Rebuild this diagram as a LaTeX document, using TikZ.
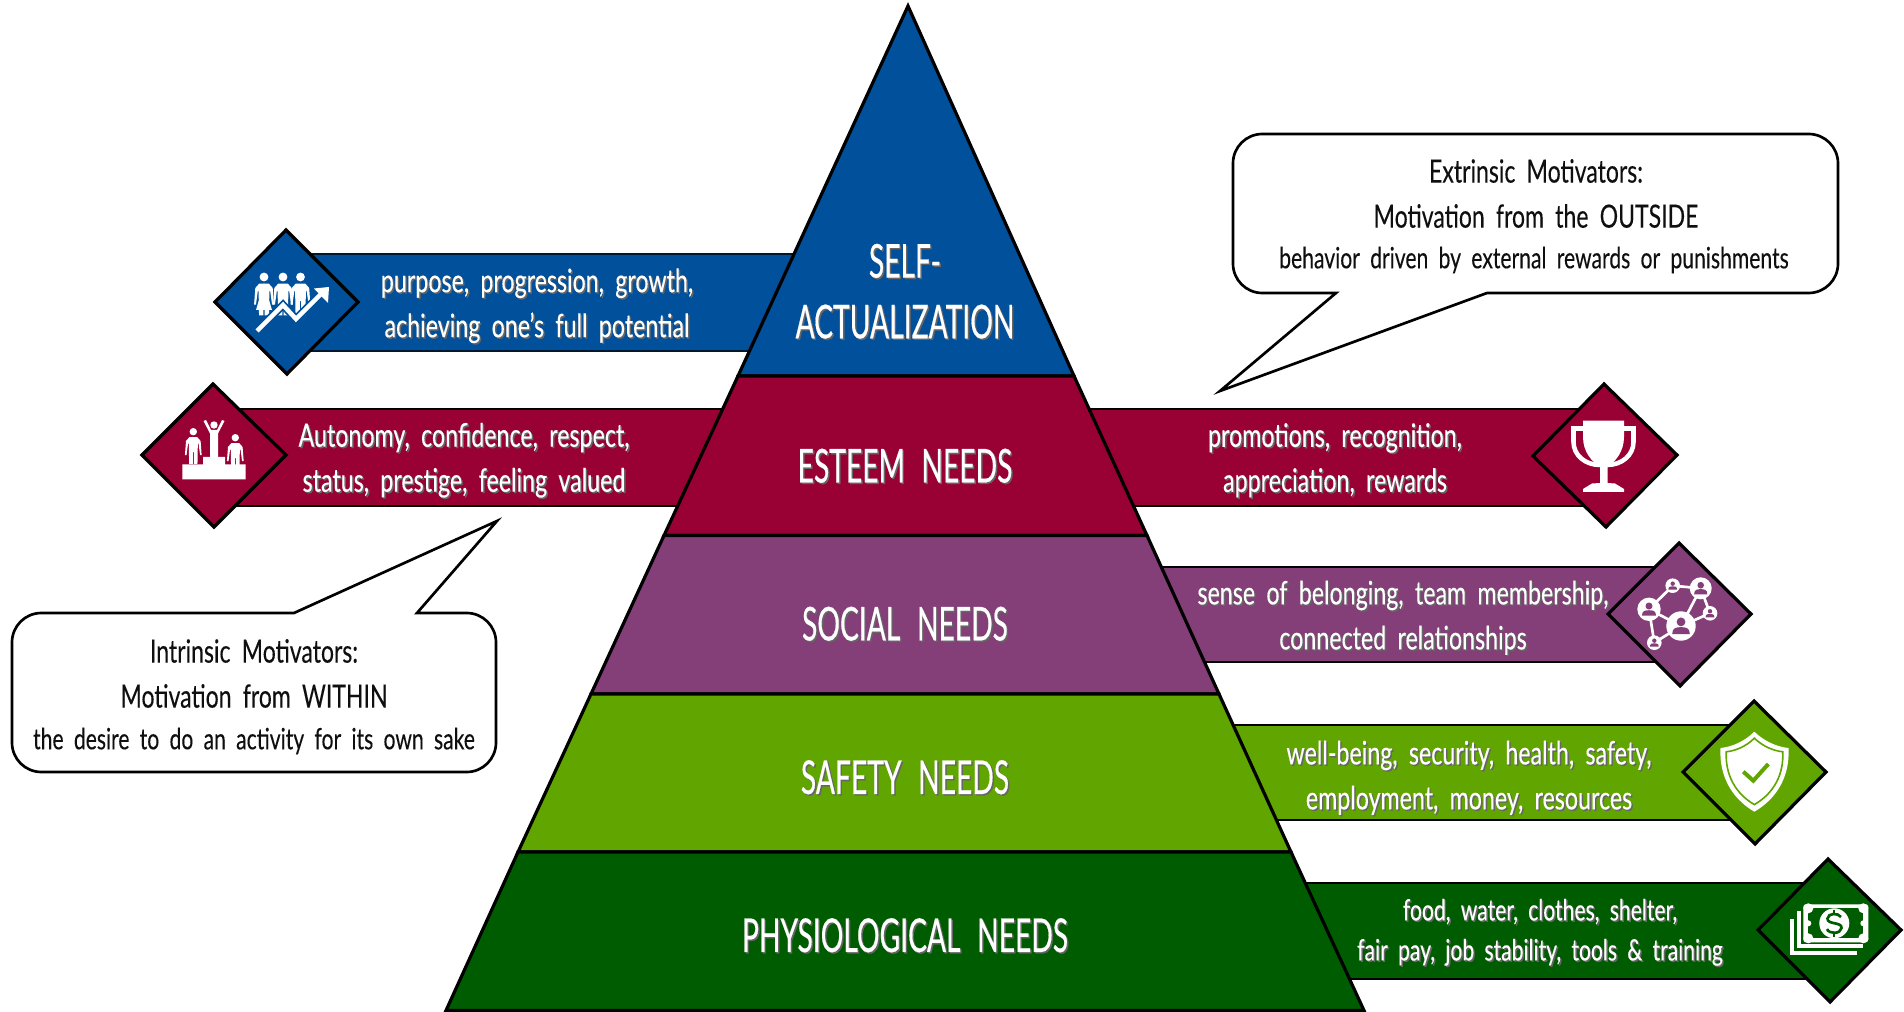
\documentclass[tikz,border=0pt]{standalone}
\usepackage{fontspec}
\setmainfont[FakeStretch=0.72,WordSpace=1.9,FakeBold=0.25]{Lato}
\newfontfamily\tierfont[FakeStretch=0.605,WordSpace=2.3,FakeBold=0.35]{Lato}
\newfontfamily\callfont[FakeStretch=0.72,WordSpace=1.9,FakeBold=0.15]{Lato}
\definecolor{cblue}{RGB}{0,80,155}
\definecolor{cred}{RGB}{153,0,51}
\definecolor{cpurple}{RGB}{132,62,120}
\definecolor{cgreen}{RGB}{96,165,0}
\definecolor{cdark}{RGB}{0,92,0}
\definecolor{ctext}{RGB}{15,15,15}
\newcommand\shd[1]{\leavevmode\rlap{\raisebox{-1.1pt}{\kern1.1pt\textcolor{black!60}{#1}}}#1}
\tikzset{
 x=0.75pt,y=-0.75pt,
 tier/.style={draw=black,line width=2.4pt,line join=miter},
 barbox/.style={draw=black,line width=2.2pt},
 diamondbox/.style={draw=black,line width=2.4pt,line join=miter},
 callout/.style={draw=black,line width=2pt,fill=white,line join=miter},
 tiertext/.style={text=white,inner sep=0,align=center,font=\tierfont\fontsize{35}{45.5}\selectfont},
 sidetext/.style={text=white,inner sep=0,align=center,font=\fontsize{24.2}{33.75}\selectfont},
 lowtext/.style={text=white,inner sep=0,align=center,font=\fontsize{22}{30}\selectfont},
 calloutbig/.style={text=ctext,inner sep=0,font=\callfont\fontsize{24}{26}\selectfont},
 calloutsmall/.style={text=ctext,inner sep=0,font=\callfont\fontsize{22}{24}\selectfont},
}
% standing person: origin at the centre of the head, unit = head radius
\newcommand\iconperson[3]{%
 \begin{scope}[shift={(#1,#2)},scale=#3]
 \fill[white] (0,0) circle[radius=1];
 \begin{scope}[xscale=0.47]
 \fill[white] (-2.3,1.5) -- (2.3,1.5) -- (4.2,2.5) -- (4.8,6.3) -- (3.9,6.3) -- (3.0,3.2) -- (2.6,3.2) -- (2.4,8.7) -- (0.3,8.7) -- (0.3,5.5) -- (-0.3,5.5) -- (-0.3,8.7) -- (-2.4,8.7) -- (-2.6,3.2) -- (-3.0,3.2) -- (-3.9,6.3) -- (-4.8,6.3) -- (-4.2,2.5) -- cycle;
 \end{scope}
 \end{scope}}
% circle of the network icon holding a small person
\newcommand\netdisc[3]{%
 \fill[white] (#1,#2) circle[radius=#3];
 \begin{scope}[shift={(#1,#2)},scale=#3]
 \fill[cpurple] (0,-0.28) circle[radius=0.3];
 \fill[cpurple] (-0.6,0.55) .. controls (-0.6,0.1) and (-0.3,0.08) .. (0,0.08) .. controls (0.3,0.08) and (0.6,0.1) .. (0.6,0.55) -- cycle;
 \end{scope}}
\newcommand\shieldpath{(1754.3,731.7) .. controls (1765,742) and (1778,747) .. (1788.5,748) .. controls (1790,775) and (1778,798) .. (1754.3,811.7) .. controls (1731,798) and (1719,775) .. (1720.5,748) .. controls (1731,747) and (1744,742) .. (1754.3,731.7) -- cycle}
\begin{document}
\begin{tikzpicture}
\useasboundingbox (0,0) rectangle (1904,1012);

% ---- side bars (behind pyramid and diamonds)
\path[barbox,draw=black!70!cblue,fill=cblue] (300,254) rectangle (800,351);
\path[barbox,fill=cred] (230,409) rectangle (724,506);
\path[barbox,fill=cred] (1080,409) rectangle (1590,506);
\path[barbox,fill=cpurple] (1150,567) rectangle (1665,662);
\path[barbox,fill=cgreen] (1220,725) rectangle (1740,820);
\path[barbox,fill=cdark] (1290,883) rectangle (1815,979);

% ---- pyramid
\path[tier,fill=cblue] (908,6) -- (1074,376) -- (738,376) -- cycle;
\path[tier,fill=cred] (738,376) -- (1074,376) -- (1147,535.5) -- (664,535.5) -- cycle;
\path[tier,fill=cpurple] (664,535.5) -- (1147,535.5) -- (1219,694) -- (591,694) -- cycle;
\path[tier,fill=cgreen] (591,694) -- (1219,694) -- (1291,852) -- (518,852) -- cycle;
\path[tier,fill=cdark] (518,852) -- (1291,852) -- (1364,1010.5) -- (446,1010.5) -- cycle;

% ---- diamonds
\path[diamondbox,fill=cblue] (215,302) -- (286,230) -- (358,302) -- (287,374) -- cycle;
\path[diamondbox,fill=cred] (142,455) -- (213,384) -- (286,455) -- (214,527) -- cycle;
\path[diamondbox,fill=cred] (1533,456) -- (1604,384) -- (1677,455) -- (1606,527) -- cycle;
\path[diamondbox,fill=cpurple] (1608,614) -- (1679,543) -- (1751,614) -- (1680,686) -- cycle;
\path[diamondbox,fill=cgreen] (1683,772) -- (1754,701) -- (1826,772) -- (1755,844) -- cycle;
\path[diamondbox,fill=cdark] (1758,930) -- (1828,859) -- (1901,930) -- (1830,1002) -- cycle;

% ---- icon: team and rising arrow
\iconperson{283}{277}{4.4}
\iconperson{300.5}{277}{4.4}
\iconperson{264}{277}{4.4}
\fill[white] (264,283) -- (256,310) -- (272,310) -- cycle;
\draw[cblue,line width=6pt] (257,331) -- (283,305) -- (296,319) -- (322,293);
\fill[cblue] (312,286) -- (332,284) -- (331,306) -- cycle;
\draw[white,line width=3.4pt] (257,331) -- (283,305) -- (296,319) -- (322,293);
\fill[white] (314,288.5) -- (329,287) -- (328,303) -- cycle;

% ---- icon: podium
\iconperson{193.3}{431.7}{3.7}
\iconperson{235.3}{437.7}{3.7}
\fill[white] (214,425) circle[radius=3.7];
\fill[white] (203.5,421) -- (206,420) -- (211,430) -- (217,430) -- (222,420) -- (224.5,421) -- (218,433.5) -- (218,458) -- (210,458) -- (210,433.5) -- cycle;
\fill[white] (203,457) rectangle (225,465) (182.3,464.3) rectangle (245.7,479.3);

% ---- icon: trophy
\draw[white,line width=3.4pt] (1583,428.5) -- (1573.5,428.5) -- (1573.5,442) .. controls (1573.5,455) and (1585,465) .. (1600,465);
\draw[white,line width=3.4pt] (1624,428.5) -- (1633.5,428.5) -- (1633.5,442) .. controls (1633.5,455) and (1622,465) .. (1607,465);
\fill[white] (1583,420.7) -- (1624,420.7) -- (1624,437) .. controls (1624,452) and (1615,462) .. (1607.7,466.5) -- (1607.7,483) -- (1615,483.5) -- (1624,489) -- (1624,492) -- (1583,492) -- (1583,489) -- (1592,483.5) -- (1600,483) -- (1600,466.5) .. controls (1592,462) and (1583,452) .. (1583,437) -- cycle;

% ---- icon: network
\draw[white,line width=2pt] (1672.7,585.7) -- (1649,609.3) -- (1681,626) -- (1700.7,588.3) -- (1672.7,585.7)
  (1700.7,588.3) -- (1710,613.3) -- (1681,626) -- (1654.3,642.7) -- (1649,609.3);
\netdisc{1681}{626}{14.7}
\netdisc{1649}{609.3}{11.7}
\netdisc{1700.7}{588.3}{11}
\netdisc{1672.7}{585.7}{7.3}
\netdisc{1710}{613.3}{7.3}
\netdisc{1654.3}{642.7}{7.3}

% ---- icon: shield
\fill[white] \shieldpath;
\begin{scope}[shift={(1754.5,770)},scale=0.83,shift={(-1754.5,-770)}]
\draw[cgreen,line width=1.2pt] \shieldpath;
\end{scope}
\draw[cgreen,line width=3pt] (1743.3,771.7) -- (1753.3,780.7) -- (1768.3,764);

% ---- icon: banknotes
\draw[white,line width=3.2pt] (1792,919) -- (1792,953) -- (1856.7,953);
\draw[white,line width=3.2pt] (1798.8,911) -- (1798.8,946) -- (1863,946);
\fill[white,rounded corners=2pt] (1803.3,904.3) rectangle (1868.3,942.3);
\fill[cdark] (1808.3,908.3) rectangle (1863.3,938.3);
\fill[white] (1808.3,908.3) circle[radius=5] (1863.3,908.3) circle[radius=5] (1808.3,938.3) circle[radius=5] (1863.3,938.3) circle[radius=5] (1808.3,923.3) circle[radius=3] (1863.3,923.3) circle[radius=3];
\fill[white] (1834.3,923.3) circle[radius=15];
\draw[cdark,line width=2pt] (1841,917) .. controls (1838,912.5) and (1828,913) .. (1827.5,918.5) .. controls (1827,925) and (1842,921.5) .. (1841.5,928) .. controls (1841,934) and (1829,934.5) .. (1827,929);
\draw[cdark,line width=1.6pt] (1834.3,909.5) -- (1834.3,913.5) (1834.3,933.5) -- (1834.3,937);

% ---- callouts
\path[callout] (1336,293) -- (1263,293) [rounded corners=22pt] -- (1233,293) -- (1233,134) -- (1838,134) -- (1838,293) [rounded corners=0pt] -- (1487,293) -- (1220,391) -- cycle;
\path[callout] (417,613) -- (467,613) [rounded corners=22pt] -- (496,613) -- (496,772) -- (12,772) -- (12,613) [rounded corners=0pt] -- (294,613) -- (497,521) -- cycle;

% ---- pyramid labels
\node[tiertext] (selfact) at (905,292) {\shd{SELF-}\\\shd{ACTUALIZATION}};
\node[tiertext] (esteem) at (905,466.5) {\shd{ESTEEM NEEDS}};
\node[tiertext] (social) at (905,624.5) {\shd{SOCIAL NEEDS}};
\node[tiertext] (safety) at (905,778) {\shd{SAFETY NEEDS}};
\node[tiertext] (physio) at (905,936) {\shd{PHYSIOLOGICAL NEEDS}};

% ---- bar texts
\node[sidetext] (tblue) at (537,306.5) {\shd{purpose, progression, growth,}\\\shd{achieving one’s full potential}};
\node[sidetext] (tredl) at (464,461) {\shd{Autonomy, confidence, respect,}\\\shd{status, prestige, feeling valued}};
\node[sidetext] (tredr) at (1335,461) {\shd{promotions, recognition,}\\\shd{appreciation, rewards}};
\node[sidetext] (tpurple) at (1403,618.5) {\shd{sense of belonging, team membership,}\\\shd{connected relationships}};
\node[sidetext] (tgreen) at (1469,778.5) {\shd{well-being, security, health, safety,}\\\shd{employment, money, resources}};
\node[lowtext] (tdark) at (1540,933) {\shd{food, water, clothes, shelter,}\\\shd{fair pay, job stability, tools \& training}};

% ---- callout texts
\node[calloutbig] (ea) at (1536,171) {Extrinsic Motivators:};
\node[calloutbig] (eb) at (1536,216) {Motivation from the OUTSIDE};
\node[calloutsmall] (ec) at (1534,260) {behavior driven by external rewards or punishments};
\node[calloutbig] (ia) at (254,651) {Intrinsic Motivators:};
\node[calloutbig] (ib) at (254,696) {Motivation from WITHIN};
\node[calloutsmall] (ic) at (254,741) {the desire to do an activity for its own sake};
\end{tikzpicture}
\end{document}
